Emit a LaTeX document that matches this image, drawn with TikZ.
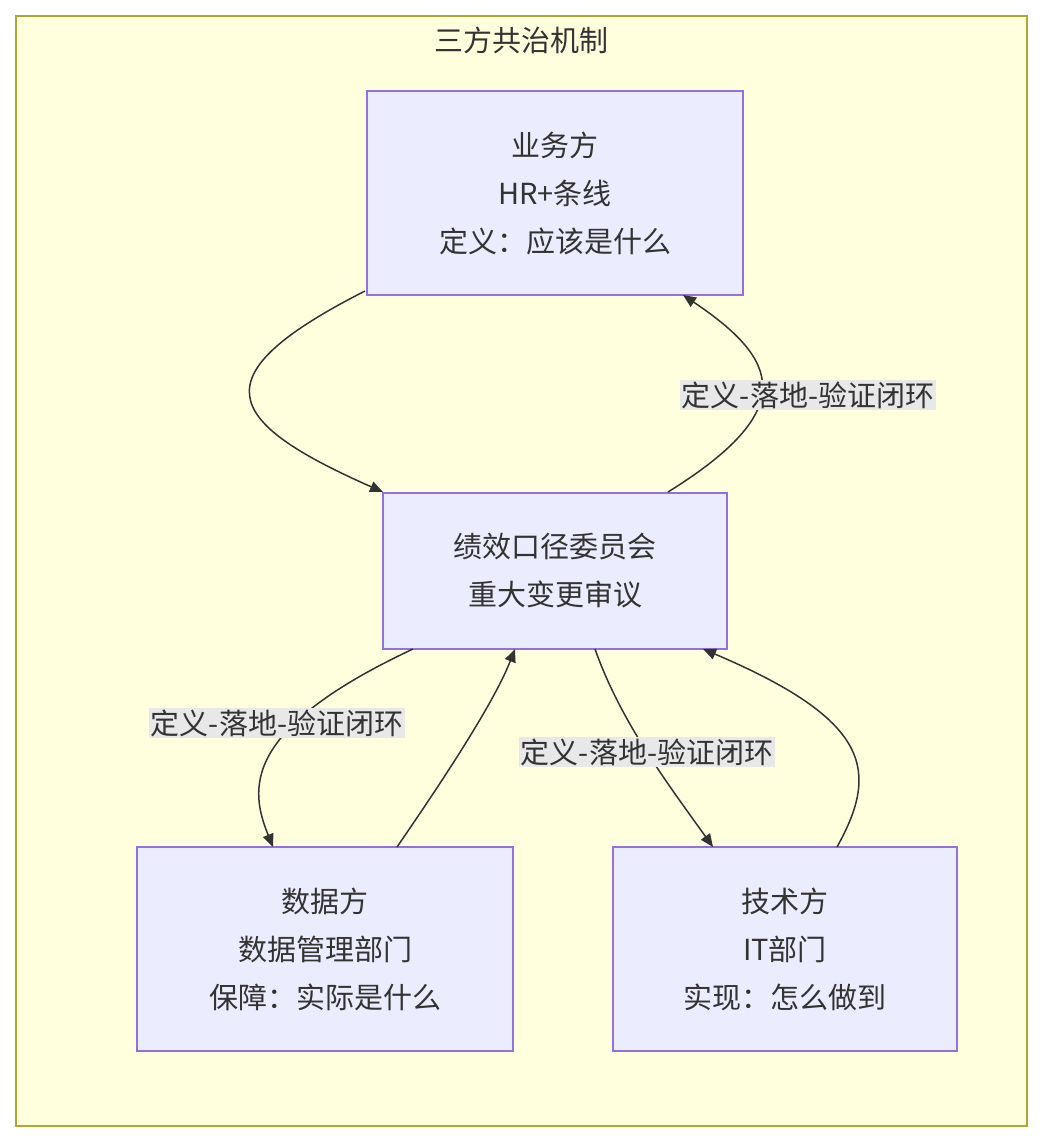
\documentclass[tikz,border=0pt]{standalone}
\usepackage{fontspec}
\setmainfont{Noto Sans CJK SC}
\usetikzlibrary{arrows.meta}
\definecolor{cl}{HTML}{FFFFDE}\definecolor{clb}{HTML}{AAAA33}
\definecolor{nf}{HTML}{ECECFF}\definecolor{nb}{HTML}{9370DB}
\definecolor{lb}{HTML}{E8E8E8}\definecolor{ln}{HTML}{333333}
\tikzset{box/.style={draw=nb,fill=nf,line width=1.2pt,align=center,font=\fontsize{29}{48}\selectfont,text=ln},
 lab/.style={fill=lb,inner sep=2pt,font=\fontsize{29}{34}\selectfont,text=ln},
 e/.style={draw=ln,line width=1.5pt,-{Triangle[length=13pt,width=11pt]}}}
\begin{document}
\begin{tikzpicture}[x=1pt,y=-1pt]
\useasboundingbox (0,0) rectangle (1042,1142);
\draw[fill=cl,draw=clb,line width=1.2pt] (16,16) rectangle (1027,1126);
\node[font=\fontsize{29}{34}\selectfont,text=ln] (t) at (521,40) {三方共治机制};
\node[box,minimum width=376pt,minimum height=204pt] (biz) at (555,193) {业务方\\HR+条线\\定义：应该是什么};
\node[box,minimum width=344pt,minimum height=156pt] (com) at (555,571) {绩效口径委员会\\重大变更审议};
\node[box,minimum width=376pt,minimum height=204pt] (dat) at (325,949) {数据方\\数据管理部门\\保障：实际是什么};
\node[box,minimum width=344pt,minimum height=204pt] (tec) at (785,949) {技术方\\IT部门\\实现：怎么做到};
\coordinate (a1) at (365,291); \coordinate (a2) at (383,492);
\draw[e] (a1) .. controls (200,375) and (220,420) .. (a2);
\coordinate (b1) at (668,492); \coordinate (b2) at (683,295);
\draw[e] (b1) .. controls (800,410) and (780,360) .. (b2);
\node[lab] (l1) at (808,395) {定义-落地-验证闭环};
\coordinate (c1) at (413,649); \coordinate (c2) at (273,847);
\draw[e] (c1) .. controls (240,730) and (250,790) .. (c2);
\node[lab] (l2) at (277,723) {定义-落地-验证闭环};
\coordinate (d1) at (397,847); \coordinate (d2) at (515,649);
\draw[e] (d1) .. controls (450,770) and (495,700) .. (d2);
\coordinate (f1) at (595,649); \coordinate (f2) at (713,847);
\draw[e] (f1) .. controls (620,720) and (665,780) .. (f2);
\node[lab] (l3) at (647,752) {定义-落地-验证闭环};
\coordinate (g1) at (837,847); \coordinate (g2) at (703,649);
\draw[e] (g1) .. controls (880,770) and (870,720) .. (g2);
\end{tikzpicture}
\end{document}
